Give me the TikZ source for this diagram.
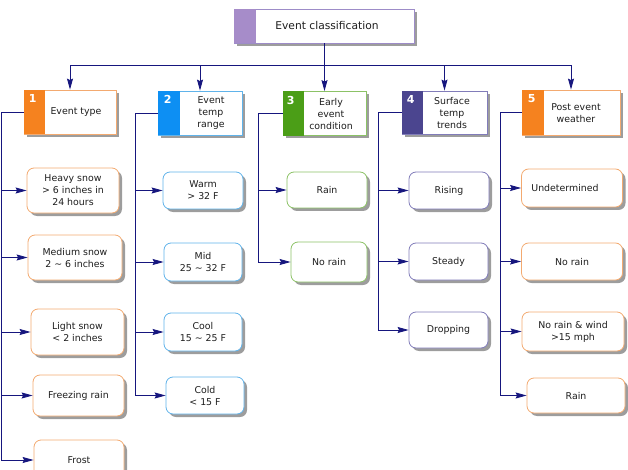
\documentclass[tikz,border=0pt]{standalone}
\usepackage{fontspec}
\setmainfont{DejaVu Sans}
\usetikzlibrary{arrows.meta,shadows}
\definecolor{ecnavy}{HTML}{16167E}
\definecolor{ecpurple}{HTML}{A68CC9}
\definecolor{ecpurplel}{HTML}{9D8CC8}
\definecolor{ecorange}{HTML}{F5821F}
\definecolor{ecorangel}{HTML}{F3AA70}
\definecolor{ecblue}{HTML}{0D8FF3}
\definecolor{ecbluel}{HTML}{60B3EA}
\definecolor{ecgreen}{HTML}{4B9E17}
\definecolor{ecgreenl}{HTML}{8CC266}
\definecolor{ecindigo}{HTML}{4B458F}
\definecolor{ecindigol}{HTML}{817CB9}
\definecolor{ectext}{HTML}{1E1E1E}

\begin{document}
\begin{tikzpicture}[x=1pt, y=-1pt,
  hbox/.style={draw=#1, line width=0.8pt, fill=white, inner sep=0pt,
               drop shadow={shadow xshift=3pt, shadow yshift=-3pt, fill=black!45, opacity=0.85}},
  htxt/.style={font=\fontsize{9.4}{12}\selectfont, text=ectext, align=center, inner sep=0pt},
  numlbl/.style={font=\fontsize{11}{11}\selectfont\bfseries, text=white, inner sep=0pt},
  kid/.style={draw=#1, line width=0.8pt, fill=white, rounded corners=7pt, inner sep=0pt,
              align=center, font=\fontsize{9.4}{12}\selectfont, text=ectext,
              drop shadow={shadow xshift=3pt, shadow yshift=-3pt, fill=black!45, opacity=0.85}},
  arr/.style={-{Stealth[length=11pt,width=6pt,inset=1.5pt]}, ecnavy, line width=0.9pt},
]
\useasboundingbox (0,0) rectangle (628,470);

% Kopfknoten oben
\node[hbox=ecpurplel, minimum width=180pt, minimum height=34pt] (top) at (324,26) {};
\fill[ecpurple] (top.north west) rectangle ([xshift=22pt]top.south west);
\node[htxt, font=\fontsize{10.7}{13}\selectfont] (toptxt) at (327,26) {Event classification};

% Kategorien (Rahmen, farbiger Streifen, Nummer, Text)
\node[hbox=ecorangel, minimum width=92pt, minimum height=44pt] (h1) at (70,112) {};
\node[hbox=ecbluel,   minimum width=84pt, minimum height=44pt] (h2) at (200,113) {};
\node[hbox=ecgreenl,  minimum width=83pt, minimum height=44pt] (h3) at (324.5,113.5) {};
\node[hbox=ecindigol, minimum width=85pt, minimum height=43pt] (h4) at (444.5,112.5) {};
\node[hbox=ecorangel, minimum width=98pt, minimum height=45pt] (h5) at (571,112.5) {};
\fill[ecorange] (h1.north west) rectangle ([xshift=21.5pt]h1.south west);
\fill[ecblue]   (h2.north west) rectangle ([xshift=22pt]h2.south west);
\fill[ecgreen]  (h3.north west) rectangle ([xshift=21pt]h3.south west);
\fill[ecindigo] (h4.north west) rectangle ([xshift=21pt]h4.south west);
\fill[ecorange] (h5.north west) rectangle ([xshift=22pt]h5.south west);
\node[numlbl] (n1) at ([xshift=9pt,yshift=-9pt]h1.north west) {1};
\node[numlbl] (n2) at ([xshift=10pt,yshift=-9pt]h2.north west) {2};
\node[numlbl] (n3) at ([xshift=8pt,yshift=-9pt]h3.north west) {3};
\node[numlbl] (n4) at ([xshift=9pt,yshift=-9pt]h4.north west) {4};
\node[numlbl] (n5) at ([xshift=10pt,yshift=-9pt]h5.north west) {5};
\node[htxt] (t1) at (76,112)    {Event type};
\node[htxt] (t2) at (211,113)   {Event\\temp\\range};
\node[htxt] (t3) at (331,113.5) {Early\\event\\condition};
\node[htxt] (t4) at (452,112.5) {Surface\\temp\\trends};
\node[htxt] (t5) at (576,113)   {Post event\\weather};

% Einzelwerte je Kategorie
\node[kid=ecorangel, minimum width=92pt, minimum height=45pt] (c11) at (73,190.5)  {Heavy snow\\> 6 inches in\\24 hours};
\node[kid=ecorangel, minimum width=94pt, minimum height=45pt] (c12) at (75,257.5)  {Medium snow\\2 \textasciitilde{} 6 inches};
\node[kid=ecorangel, minimum width=93pt, minimum height=46pt] (c13) at (77.5,332)  {Light snow\\< 2 inches};
\node[kid=ecorangel, minimum width=91pt, minimum height=41pt] (c14) at (78.5,395.5) {Freezing rain};
\node[kid=ecorangel, minimum width=90pt, minimum height=40pt] (c15) at (79,460)    {Frost};

\node[kid=ecbluel, minimum width=80pt, minimum height=37pt] (c21) at (203,190.5) {Warm\\> 32 F};
\node[kid=ecbluel, minimum width=78pt, minimum height=38pt] (c22) at (203,262)   {Mid\\25 \textasciitilde{} 32 F};
\node[kid=ecbluel, minimum width=78pt, minimum height=38pt] (c23) at (203,332)   {Cool\\15 \textasciitilde{} 25 F};
\node[kid=ecbluel, minimum width=78pt, minimum height=37pt] (c24) at (205,395.5) {Cold\\< 15 F};

\node[kid=ecgreenl, minimum width=80pt, minimum height=36pt] (c31) at (327,190) {Rain};
\node[kid=ecgreenl, minimum width=76pt, minimum height=40pt] (c32) at (329,262) {No rain};

\node[kid=ecindigol, minimum width=80pt, minimum height=37pt] (c41) at (449,190.5)   {Rising};
\node[kid=ecindigol, minimum width=79pt, minimum height=37pt] (c42) at (448.5,261.5) {Steady};
\node[kid=ecindigol, minimum width=79pt, minimum height=36pt] (c43) at (448.5,330)   {Dropping};

\node[kid=ecorangel, minimum width=101pt, minimum height=38pt] (c51) at (572,188)   {Undetermined\hspace*{14pt}};
\node[kid=ecorangel, minimum width=101pt, minimum height=37pt] (c52) at (572,261.5) {No rain};
\node[kid=ecorangel, minimum width=102pt, minimum height=39pt] (c53) at (573,331.5) {No rain \& wind\\>15 mph};
\node[kid=ecorangel, minimum width=98pt,  minimum height=35pt] (c54) at (576,395.5) {Rain};

% Verbinder: Sammelschiene oben
\coordinate (bus) at (324,65);
\foreach \h in {h1,h2,h3,h4,h5}
  \draw[arr] (top.south) -- (bus) -| (\h.north);

% Verbinder: senkrechte Linien links der Spalten
\coordinate (sp1) at (1.5,0);
\coordinate (sp2) at (135,0);
\coordinate (sp3) at (258,0);
\coordinate (sp4) at (378,0);
\coordinate (sp5) at (500,0);
\foreach \c in {c11,c12,c13,c14,c15}
  \draw[arr] (h1.west) -| (sp1 |- \c.west) -- (\c.west);
\foreach \c in {c21,c22,c23,c24}
  \draw[arr] (h2.west) -| (sp2 |- \c.west) -- (\c.west);
\foreach \c in {c31,c32}
  \draw[arr] (h3.west) -| (sp3 |- \c.west) -- (\c.west);
\foreach \c in {c41,c42,c43}
  \draw[arr] (h4.west) -| (sp4 |- \c.west) -- (\c.west);
\foreach \c in {c51,c52,c53,c54}
  \draw[arr] (h5.west) -| (sp5 |- \c.west) -- (\c.west);

\end{tikzpicture}
\end{document}
